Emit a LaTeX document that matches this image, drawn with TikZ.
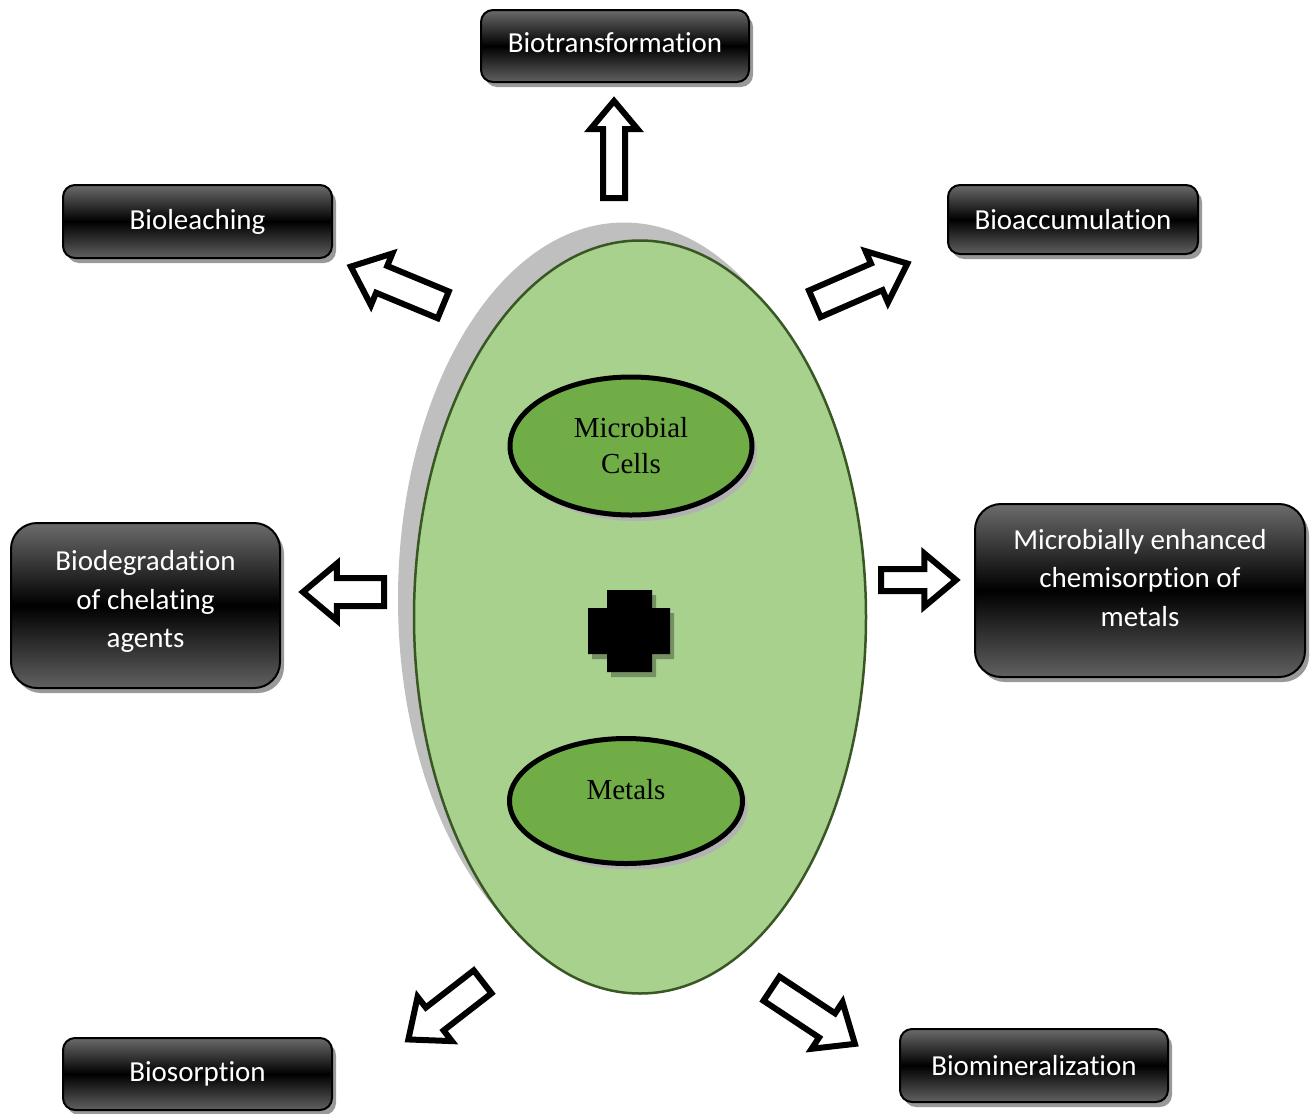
\documentclass[tikz,border=0pt]{standalone}
\usepackage{fontspec}
\setmainfont{Carlito}[Ligatures={NoCommon,NoRequired,NoContextual,NoRare},RawFeature={-ccmp;-rlig}]
\newfontfamily\cellfont{Liberation Serif}
\usetikzlibrary{shapes.geometric,shapes.arrows,shadows}
\definecolor{cellgreen}{HTML}{A9D18E}
\definecolor{cellrim}{HTML}{385723}
\definecolor{innergreen}{HTML}{70AD47}

\tikzset{
  procbox/.style={draw=black,line width=2pt,rounded corners=12pt,
    top color=black!58,bottom color=black!62,middle color=black,
    text=white,font=\fontsize{29}{38.5}\selectfont,align=center,inner sep=0pt,
    drop shadow={shadow xshift=4pt,shadow yshift=-5pt,fill=black!40,opacity=1}},
  bigbox/.style={procbox,rounded corners=26pt,text depth=26pt},
  outarrow/.style={single arrow,draw=black,fill=white,line width=6pt,anchor=tail,
    inner xsep=0pt,inner ysep=11.5pt,single arrow tip angle=80,single arrow head extend=13.5pt,minimum width=50pt},
  innercell/.style={ellipse,draw=black,line width=5pt,fill=innergreen,inner sep=0pt,
    font=\cellfont\fontsize{29}{36}\selectfont,align=center,
    drop shadow={shadow xshift=5pt,shadow yshift=-6pt,fill=black!30,opacity=1}}
}

\begin{document}
\begin{tikzpicture}[x=1pt,y=-1pt]
\useasboundingbox (0,0) rectangle (1315,1114);
% cell
\node[ellipse,draw=cellrim,line width=2.5pt,fill=cellgreen,inner sep=0pt,
  minimum width=452pt,minimum height=753pt,
  drop shadow={shadow xshift=-16pt,shadow yshift=18pt,fill=black!25,opacity=1}] (cell) at (640,617) {};
\node[innercell,minimum width=242pt,minimum height=138pt] (microbes) at (631,446) {Microbial\\Cells};
\node[innercell,minimum width=233pt,minimum height=125pt] (metals) at (626,801) {\raisebox{24pt}{Metals}};
% plus
\fill[black,opacity=.3] (611,595) rectangle (656,677) (592,613) rectangle (674,659);
\fill[black] (607,590) rectangle (652,672) (588,608) rectangle (670,654);
% boxes
\node[procbox,minimum width=268pt,minimum height=72pt,text depth=7pt] (transf) at (615,46) {Biotransformation};
\node[procbox,minimum width=269pt,minimum height=73pt] (leach) at (197.5,221.5) {Bioleaching};
\node[procbox,minimum width=250pt,minimum height=69pt] (accum) at (1073,219.5) {Bioaccumulation};
\node[bigbox,minimum width=269pt,minimum height=165pt,text depth=13pt] (degrad) at (145.5,605.5) {Biodegradation\\of chelating\\agents};
\node[bigbox,minimum width=330pt,minimum height=173pt] (chemis) at (1140,590.5) {Microbially enhanced\\chemisorption of\\metals};
\node[procbox,minimum width=269pt,minimum height=72pt] (sorp) at (197.5,1074) {Biosorption};
\node[procbox,minimum width=268pt,minimum height=73pt] (miner) at (1034,1065.5) {Biomineralization};
% arrows
\node[outarrow,minimum width=41pt,inner ysep=8pt,single arrow head extend=12.5pt,minimum height=97pt,rotate=90] (toTransf) at (614,201) {};
\node[outarrow,minimum height=100pt,rotate=157.5] (toLeach) at (446,306) {};
\node[outarrow,minimum height=101pt,rotate=23.5] (toAccum) at (812,305) {};
\node[outarrow,minimum width=51pt,inner ysep=11pt,single arrow head extend=14.5pt,minimum height=81pt,rotate=180] (toDegrad) at (387,592) {};
\node[outarrow,minimum width=47pt,inner ysep=8pt,single arrow head extend=15.5pt,minimum height=75pt] (toChemis) at (878,580) {};
\node[outarrow,minimum height=94pt,rotate=217.8] (toSorp) at (485,980) {};
\node[outarrow,minimum height=100pt,rotate=-33.5] (toMiner) at (769,987) {};
\end{tikzpicture}
\end{document}
